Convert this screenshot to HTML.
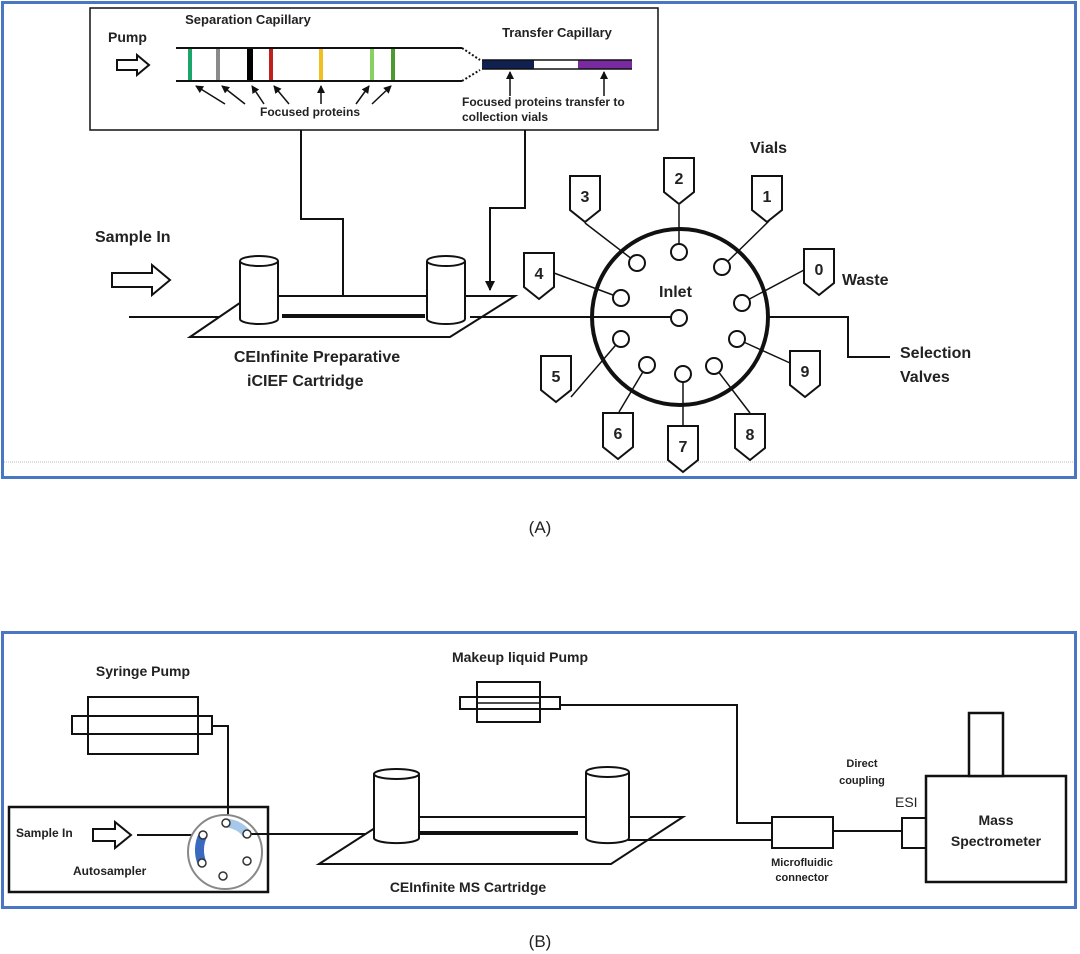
<!DOCTYPE html>
<html><head><meta charset="utf-8"><style>
html,body{margin:0;padding:0;background:#fff}
svg{display:block}
text{font-family:"Liberation Sans",sans-serif;font-weight:bold;fill:#222}
</style></head><body>
<svg width="1080" height="954" viewBox="0 0 1080 954" xmlns="http://www.w3.org/2000/svg">
<defs>
<marker id="ah" markerWidth="8" markerHeight="8" refX="7" refY="4" orient="auto" markerUnits="userSpaceOnUse"><path d="M0,0 L8,4 L0,8 Z" fill="#111"/></marker>
<marker id="ah2" markerWidth="10" markerHeight="10" refX="9" refY="5" orient="auto" markerUnits="userSpaceOnUse"><path d="M0,0 L10,5 L0,10 Z" fill="#111"/></marker>
</defs>
<rect x="2.5" y="2.5" width="1073" height="475" fill="none" stroke="#4a76c4" stroke-width="3"/>
<line x1="4" y1="462" x2="1074" y2="462" stroke="#bbb" stroke-dasharray="1,1"/>
<rect x="90" y="8" width="568" height="122" fill="#fff" stroke="#111" stroke-width="1.5"/>
<text x="108" y="42" font-size="14">Pump</text>
<path d="M117,60 h20 v-5 l12,10 l-12,10 v-5 h-20 z" fill="#fff" stroke="#111" stroke-width="2"/>
<text x="248" y="24" font-size="13" text-anchor="middle">Separation Capillary</text>
<text x="557" y="37" font-size="13" text-anchor="middle">Transfer Capillary</text>
<line x1="176" y1="48" x2="462" y2="48" stroke="#111" stroke-width="2"/>
<line x1="176" y1="81" x2="462" y2="81" stroke="#111" stroke-width="2"/>
<g stroke-width="4">
<line x1="190" y1="49" x2="190" y2="80" stroke="#1aa56a"/>
<line x1="218" y1="49" x2="218" y2="80" stroke="#8a8a8a"/>
<line x1="250" y1="49" x2="250" y2="80" stroke="#000" stroke-width="6"/>
<line x1="271" y1="49" x2="271" y2="80" stroke="#c0201a"/>
<line x1="321" y1="49" x2="321" y2="80" stroke="#f0c020"/>
<line x1="372" y1="49" x2="372" y2="80" stroke="#88d060"/>
<line x1="393" y1="49" x2="393" y2="80" stroke="#4a9a30"/>
</g>
<line x1="462" y1="48" x2="480" y2="60" stroke="#111" stroke-width="2" stroke-dasharray="2,2"/>
<line x1="462" y1="81" x2="480" y2="70" stroke="#111" stroke-width="2" stroke-dasharray="2,2"/>
<rect x="482" y="60" width="52" height="9" fill="#102050"/>
<rect x="578" y="60" width="54" height="9" fill="#7a2aa0"/>
<line x1="482" y1="60" x2="632" y2="60" stroke="#111" stroke-width="1.5"/>
<line x1="482" y1="69" x2="632" y2="69" stroke="#111" stroke-width="1.5"/>
<g stroke="#111" stroke-width="1.5" marker-end="url(#ah)">
<line x1="225" y1="104" x2="196" y2="86"/>
<line x1="245" y1="104" x2="222" y2="86"/>
<line x1="264" y1="104" x2="252" y2="86"/>
<line x1="289" y1="104" x2="274" y2="86"/>
<line x1="321" y1="104" x2="321" y2="86"/>
<line x1="356" y1="104" x2="369" y2="86"/>
<line x1="372" y1="104" x2="391" y2="86"/>
<line x1="510" y1="96" x2="510" y2="72"/>
<line x1="604" y1="96" x2="604" y2="72"/>
</g>
<text x="310" y="116" font-size="12" text-anchor="middle">Focused proteins</text>
<text x="462" y="106" font-size="12">Focused proteins transfer to</text>
<text x="462" y="121" font-size="12">collection vials</text>
<polyline points="301,130 301,219 343,219 343,309" fill="none" stroke="#111" stroke-width="2" marker-end="url(#ah2)"/>
<polyline points="525,130 525,208 490,208 490,290" fill="none" stroke="#111" stroke-width="2" marker-end="url(#ah2)"/>
<text x="95" y="242" font-size="16">Sample In</text>
<path d="M112,273 h40 v-8 l18,15 l-18,15 v-8 h-40 z" fill="#fff" stroke="#111" stroke-width="2"/>
<line x1="129" y1="317" x2="230" y2="317" stroke="#111" stroke-width="2"/>
<polygon points="190,337 250,296 515,296 450,337" fill="#fff" stroke="#111" stroke-width="2"/>
<line x1="470" y1="317" x2="680" y2="317" stroke="#111" stroke-width="2"/>
<line x1="282" y1="316" x2="425" y2="316" stroke="#111" stroke-width="4"/>
<g fill="#fff" stroke="#111" stroke-width="2">
<path d="M240,261 v58 a19,5 0 0 0 38,0 v-58"/>
<ellipse cx="259" cy="261" rx="19" ry="5"/>
<path d="M427,261 v58 a19,5 0 0 0 38,0 v-58"/>
<ellipse cx="446" cy="261" rx="19" ry="5"/>
</g>
<text x="317" y="362" font-size="16" text-anchor="middle">CEInfinite Preparative</text>
<text x="247" y="386" font-size="16">iCIEF Cartridge</text>
<circle cx="680" cy="317" r="88" fill="none" stroke="#111" stroke-width="4"/>
<polyline points="768,317 848,317 848,357 890,357" fill="none" stroke="#111" stroke-width="2"/>
<text x="900" y="358" font-size="16">Selection</text>
<text x="900" y="382" font-size="16">Valves</text>
<text x="750" y="153" font-size="16">Vials</text>
<text x="842" y="285" font-size="16">Waste</text>
<text x="659" y="297" font-size="16">Inlet</text>
<g stroke="#111" stroke-width="1.5">
<line x1="679" y1="205" x2="679" y2="252"/>
<line x1="585" y1="223" x2="637" y2="263"/>
<line x1="769" y1="221" x2="722" y2="267"/>
<line x1="554" y1="273" x2="621" y2="298"/>
<line x1="804" y1="270" x2="742" y2="303"/>
<line x1="571" y1="397" x2="621" y2="339"/>
<line x1="790" y1="363" x2="737" y2="339"/>
<line x1="619" y1="412" x2="647" y2="365"/>
<line x1="683" y1="425" x2="683" y2="374"/>
<line x1="750" y1="413" x2="714" y2="366"/>
</g>
<g fill="#fff" stroke="#111" stroke-width="2">
<circle cx="679" cy="252" r="8"/><circle cx="722" cy="267" r="8"/><circle cx="637" cy="263" r="8"/>
<circle cx="621" cy="298" r="8"/><circle cx="742" cy="303" r="8"/><circle cx="679" cy="318" r="8"/>
<circle cx="621" cy="339" r="8"/><circle cx="737" cy="339" r="8"/><circle cx="647" cy="365" r="8"/>
<circle cx="683" cy="374" r="8"/><circle cx="714" cy="366" r="8"/>
</g>
<g fill="#fff" stroke="#111" stroke-width="2" font-size="16">
<path d="M664,158 h30 v34 l-15,12 l-15,-12 z"/>
<path d="M570,176 h30 v34 l-15,12 l-15,-12 z"/>
<path d="M752,176 h30 v34 l-15,12 l-15,-12 z"/>
<path d="M524,253 h30 v34 l-15,12 l-15,-12 z"/>
<path d="M804,249 h30 v34 l-15,12 l-15,-12 z"/>
<path d="M541,356 h30 v34 l-15,12 l-15,-12 z"/>
<path d="M790,351 h30 v34 l-15,12 l-15,-12 z"/>
<path d="M603,413 h30 v34 l-15,12 l-15,-12 z"/>
<path d="M668,426 h30 v34 l-15,12 l-15,-12 z"/>
<path d="M735,414 h30 v34 l-15,12 l-15,-12 z"/>
</g>
<g font-size="16" text-anchor="middle">
<text x="679" y="184">2</text><text x="585" y="202">3</text><text x="767" y="202">1</text>
<text x="539" y="279">4</text><text x="819" y="275">0</text><text x="556" y="382">5</text>
<text x="805" y="377">9</text><text x="618" y="439">6</text><text x="683" y="452">7</text>
<text x="750" y="440">8</text>
</g>
<text x="540" y="533" font-size="17" text-anchor="middle" style="font-weight:normal">(A)</text>

<rect x="2.5" y="632.5" width="1073" height="275" fill="none" stroke="#4a76c4" stroke-width="3"/>
<text x="143" y="676" font-size="14" text-anchor="middle">Syringe Pump</text>
<rect x="88" y="697" width="110" height="57" fill="#fff" stroke="#111" stroke-width="2"/>
<rect x="72" y="716" width="140" height="18" fill="none" stroke="#111" stroke-width="2"/>
<polyline points="212,726 228,726 228,823" fill="none" stroke="#111" stroke-width="2"/>
<text x="520" y="662" font-size="14" text-anchor="middle">Makeup liquid Pump</text>
<rect x="477" y="682" width="63" height="40" fill="#fff" stroke="#111" stroke-width="2"/>
<rect x="460" y="697" width="100" height="12" fill="none" stroke="#111" stroke-width="2"/>
<line x1="477" y1="703" x2="540" y2="703" stroke="#111" stroke-width="1.5"/>
<polyline points="560,705 737,705 737,823 772,823" fill="none" stroke="#111" stroke-width="2"/>
<rect x="9" y="807" width="259" height="85" fill="none" stroke="#111" stroke-width="2.5"/>
<text x="16" y="837" font-size="12">Sample In</text>
<path d="M93,829 h22 v-7 l16,13 l-16,13 v-7 h-22 z" fill="#fff" stroke="#111" stroke-width="2"/>
<line x1="137" y1="835" x2="203" y2="835" stroke="#111" stroke-width="2"/>
<text x="73" y="875" font-size="12">Autosampler</text>
<circle cx="225" cy="852" r="37" fill="#fff" stroke="#888" stroke-width="2"/>
<path d="M203,835 A34,34 0 0 0 202,863" fill="none" stroke="#3a6ac0" stroke-width="9"/>
<path d="M226,823 A30,30 0 0 1 247,834" fill="none" stroke="#a8c8ea" stroke-width="9"/>
<line x1="247" y1="834" x2="374" y2="834" stroke="#111" stroke-width="2"/>
<g fill="#fff" stroke="#333" stroke-width="1.5">
<circle cx="226" cy="823" r="4"/><circle cx="247" cy="834" r="4"/><circle cx="203" cy="835" r="4"/>
<circle cx="202" cy="863" r="4"/><circle cx="247" cy="861" r="4"/><circle cx="223" cy="876" r="4"/>
</g>
<polygon points="319,864 392,817 683,817 611,864" fill="#fff" stroke="#111" stroke-width="2"/>
<line x1="420" y1="833" x2="578" y2="833" stroke="#111" stroke-width="4"/>
<line x1="628" y1="840" x2="772" y2="840" stroke="#111" stroke-width="2"/>
<g fill="#fff" stroke="#111" stroke-width="2">
<path d="M374,774 v64 a22,5 0 0 0 45,0 v-64"/>
<ellipse cx="396.5" cy="774" rx="22.5" ry="5"/>
<path d="M586,772 v66 a21,5 0 0 0 43,0 v-66"/>
<ellipse cx="607.5" cy="772" rx="21.5" ry="5"/>
</g>
<text x="468" y="892" font-size="14" text-anchor="middle">CEInfinite MS Cartridge</text>
<rect x="772" y="817" width="61" height="31" fill="#fff" stroke="#111" stroke-width="2"/>
<line x1="833" y1="831" x2="902" y2="831" stroke="#111" stroke-width="2"/>
<text x="802" y="866" font-size="11" text-anchor="middle">Microfluidic</text>
<text x="802" y="881" font-size="11" text-anchor="middle">connector</text>
<text x="862" y="767" font-size="11" text-anchor="middle">Direct</text>
<text x="862" y="784" font-size="11" text-anchor="middle">coupling</text>
<text x="895" y="807" font-size="14" style="font-weight:normal">ESI</text>
<rect x="902" y="818" width="24" height="30" fill="#fff" stroke="#111" stroke-width="2"/>
<rect x="926" y="776" width="140" height="106" fill="#fff" stroke="#111" stroke-width="2.5"/>
<rect x="969" y="713" width="34" height="63" fill="#fff" stroke="#111" stroke-width="2.5"/>
<text x="996" y="825" font-size="14" text-anchor="middle">Mass</text>
<text x="996" y="846" font-size="14" text-anchor="middle">Spectrometer</text>
<text x="540" y="947" font-size="17" text-anchor="middle" style="font-weight:normal">(B)</text>
</svg>
</body></html>
